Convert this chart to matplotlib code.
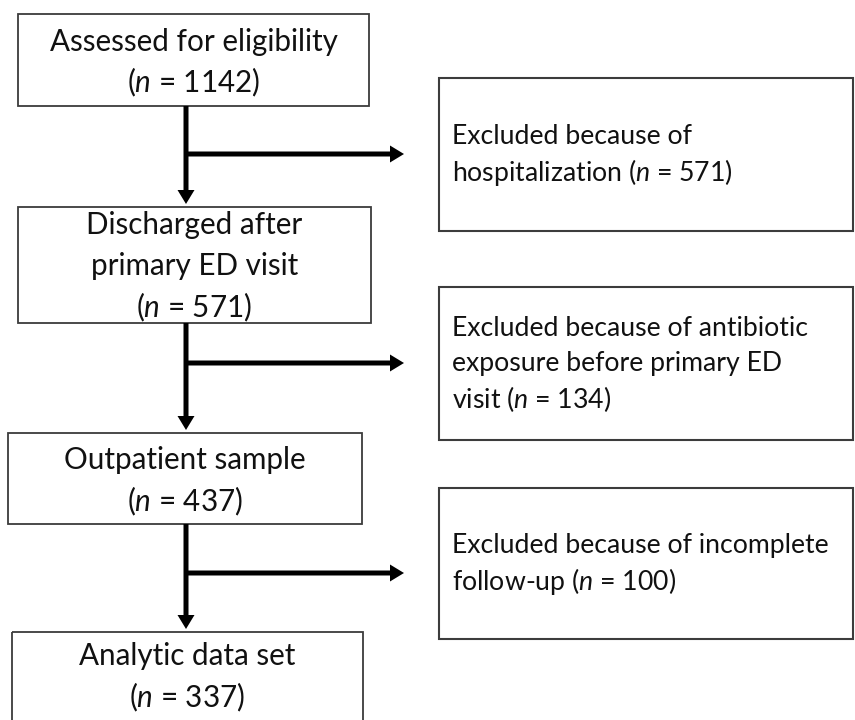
import matplotlib
matplotlib.use('Agg')
import matplotlib.pyplot as plt
from matplotlib.patches import Rectangle

plt.rcParams['font.family'] = ['Lato', 'DejaVu Sans']
plt.rcParams['mathtext.fontset'] = 'custom'
plt.rcParams['mathtext.rm'] = 'Lato'
plt.rcParams['mathtext.it'] = 'Lato:italic'

# flow steps (left column) and exclusions (right column)
main_labels = [['Assessed for eligibility'],
               ['Discharged after', 'primary ED visit'],
               ['Outpatient sample'],
               ['Analytic data set']]
main_n = [1142, 571, 437, 337]

excl_labels = [['Excluded because of', 'hospitalization'],
               ['Excluded because of antibiotic', 'exposure before primary ED', 'visit'],
               ['Excluded because of incomplete', 'follow-up']]
excl_n = [571, 134, 100]

# layout in pixels (left, top, right, bottom)
main_boxes = [(18, 14, 369, 106), (18, 207, 371, 323), (8, 433, 362, 524), (12, 632, 363, 740)]
main_text_y = [62, 266, 481, 677]
excl_boxes = [(439, 78, 853, 231), (439, 287, 853, 440), (439, 488, 853, 639)]
branch_y = [154, 363, 573]
stem_x = 186
tip_x = 404

fig = plt.figure(figsize=(8.55, 7.2), dpi=100)
ax = fig.add_axes([0, 0, 1, 1])
ax.set_xlim(0, 855)
ax.set_ylim(720, 0)
ax.axis('off')

edge = '#3c3c3c'
left_fs = 21.3
right_fs = 19.2
left_lh = 41
right_lh = 35.5

for i in range(len(main_labels)):
    l, t, r, b = main_boxes[i]
    ax.add_patch(Rectangle((l, t), r - l, b - t, fill=False, ec=edge, lw=1.3))
    lines = main_labels[i] + [r'($\it{n}$ = %d)' % main_n[i]]
    cx = (l + r) / 2
    y0 = main_text_y[i] - (len(lines) - 1) * left_lh / 2
    for k, s in enumerate(lines):
        ax.text(cx, y0 + k * left_lh, s, ha='center', va='center',
                fontsize=left_fs, color='#111111')

for i in range(len(excl_labels)):
    l, t, r, b = excl_boxes[i]
    ax.add_patch(Rectangle((l, t), r - l, b - t, fill=False, ec=edge, lw=1.5))
    lines = list(excl_labels[i])
    lines[-1] = lines[-1] + r' ($\it{n}$ = %d)' % excl_n[i]
    cy = (t + b) / 2
    y0 = cy - (len(lines) - 1) * right_lh / 2
    for k, s in enumerate(lines):
        ax.text(452, y0 + k * right_lh, s, ha='left', va='center',
                fontsize=right_fs, color='#111111')

# arrows: down to next box, and branch to exclusion
for i in range(3):
    y_start = main_boxes[i][3]
    y_end = main_boxes[i + 1][1] - 3
    ax.arrow(stem_x, y_start, 0, y_end - y_start, width=5, head_width=17,
             head_length=14, length_includes_head=True, fc='black', ec='none')
    ax.arrow(stem_x, branch_y[i], tip_x - stem_x, 0, width=5, head_width=17,
             head_length=14, length_includes_head=True, fc='black', ec='none')

fig.savefig('out.png', dpi=100)
